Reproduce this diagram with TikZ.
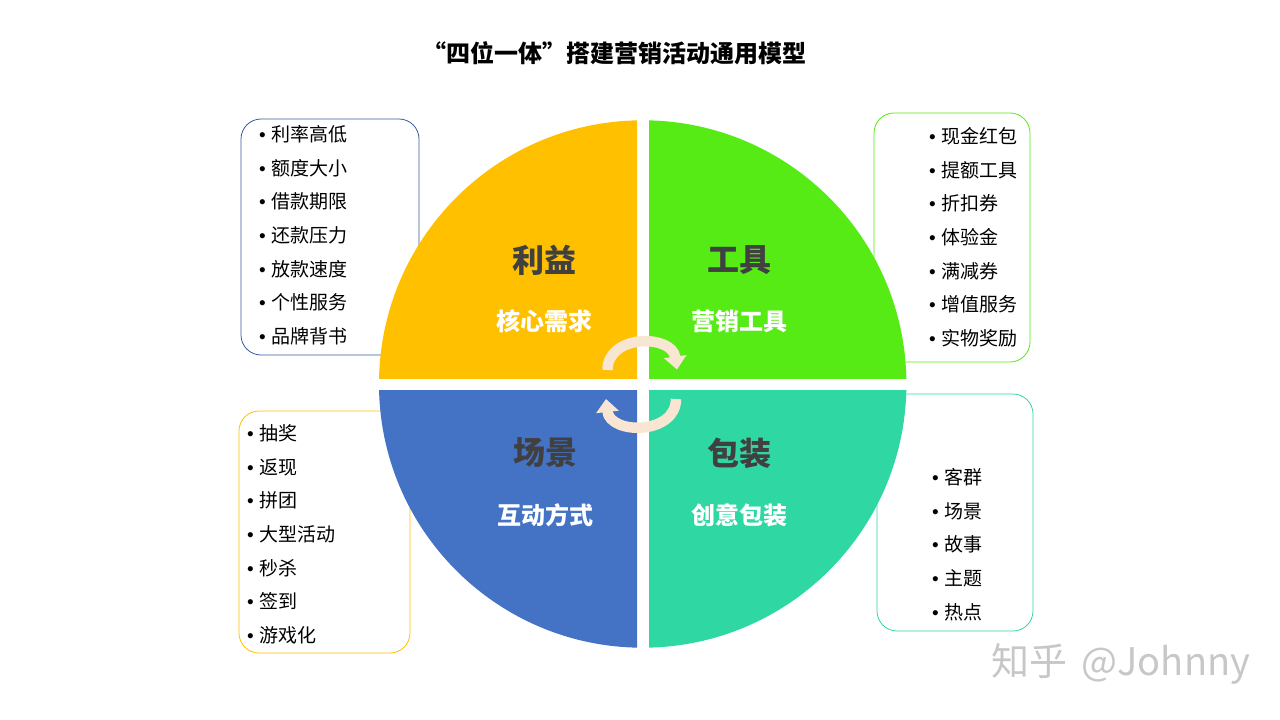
\documentclass[tikz,border=0pt]{standalone}
\usepackage{fontspec}
\setmainfont{Noto Sans CJK SC}
\newfontfamily\bulletfont{Liberation Sans}
\usetikzlibrary{arrows.meta}
\definecolor{orangeq}{HTML}{FFC000}
\definecolor{greenq}{HTML}{56EB15}
\definecolor{blueq}{HTML}{4472C4}
\definecolor{tealq}{HTML}{2FD8A3}
\definecolor{cyclecol}{HTML}{F8E6D2}
\definecolor{headcol}{HTML}{404040}
\tikzset{
  listbox/.style={draw,line width=0.8pt,rounded corners=20pt,fill=white,inner sep=0pt},
  listitem/.style={anchor=west,inner sep=0pt,font=\fontsize{19}{19}\selectfont},
  headtext/.style={inner sep=0pt,text=headcol,font=\fontsize{32}{32}\selectfont\bfseries},
  subtext/.style={inner sep=0pt,text=white,font=\fontsize{24}{24}\selectfont\bfseries},
  cyclearrow/.style={draw=cyclecol,line width=10.5pt,-{Triangle[length=13pt,width=22pt]}}
}
\newcommand{\itembullet}{\makebox[12pt][l]{\bulletfont •}}
\begin{document}
\begin{tikzpicture}[x=1pt,y=-1pt]
\useasboundingbox (0,0) rectangle (1280,720);
\node[listbox,draw=blueq!80!black,minimum width=178pt,minimum height=236pt] (boxa) at (330,237){};
\node[listbox,draw=greenq,minimum width=156pt,minimum height=249pt] (boxb) at (952,237.5){};
\node[listbox,draw=orangeq,minimum width=171pt,minimum height=242pt] (boxc) at (324.5,532){};
\node[listbox,draw=tealq,minimum width=156pt,minimum height=237pt] (boxd) at (955,512.5){};
\foreach \xa/\ya/\xb/\yb/\col in {637/378/370/110/orangeq,649/378/915/110/greenq,637/390/370/660/blueq,649/390/915/660/tealq}
{
  \begin{scope}
  \clip (\xa,\ya) rectangle (\xb,\yb);
  \fill[\col] (642.7,384) circle (263.7);
  \end{scope}
}
\node (title) at (614,53){\fontsize{24}{24}\selectfont\bfseries “四位一体”搭建营销活动通用模型};
\node[headtext] (heada) at (544,260){利益};
\node[headtext] (headb) at (739,260){工具};
\node[headtext] (headc) at (545,453){场景};
\node[headtext] (headd) at (739,453){包装};
\node[subtext] (suba) at (544,321){核心需求};
\node[subtext] (subb) at (739,321){营销工具};
\node[subtext] (subc) at (545,515){互动方式};
\node[subtext] (subd) at (739,515){创意包装};
\foreach \y/\txt [count=\i] in {134/利率高低,168/额度大小,201/借款期限,235/还款压力,269/放款速度,302/个性服务,336/品牌背书}
  \node[listitem] (itema\i) at (259,\y){\itembullet\txt};
\foreach \y/\txt [count=\i] in {136/现金红包,170/提额工具,203/折扣券,237/体验金,271/满减券,304/增值服务,338/实物奖励}
  \node[listitem] (itemb\i) at (929,\y){\itembullet\txt};
\foreach \y/\txt [count=\i] in {433/抽奖,467/返现,500/拼团,534/大型活动,568/秒杀,601/签到,635/游戏化}
  \node[listitem] (itemc\i) at (247,\y){\itembullet\txt};
\foreach \y/\txt [count=\i] in {477/客群,511/场景,544/故事,578/主题,612/热点}
  \node[listitem] (itemd\i) at (932,\y){\itembullet\txt};
\coordinate (cyclea) at (607.5,370);
\coordinate (cycleatip) at (677,369.5);
\coordinate (cycleb) at (676,399);
\coordinate (cyclebtip) at (606,399);
\draw[cyclearrow] (cyclea) .. controls (607.5,334) and (672,334) .. (cycleatip);
\draw[cyclearrow] (cycleb) .. controls (676,435) and (610,435) .. (cyclebtip);
\node[anchor=west,inner sep=0pt,text=black!22,font=\fontsize{38}{38}\selectfont] (mark) at (991,664){知乎\hspace{6pt} @Johnny};
\end{tikzpicture}
\end{document}
